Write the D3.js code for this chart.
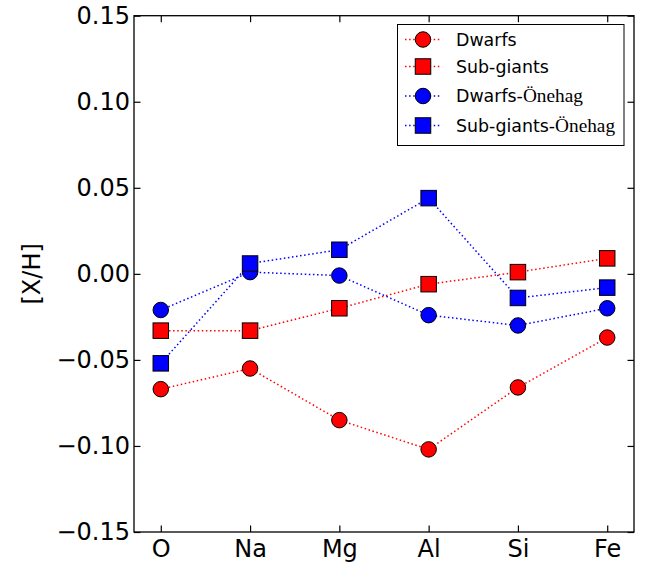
<!DOCTYPE html>
<html>
<head>
<meta charset="utf-8">
<script src="https://cdn.jsdelivr.net/npm/d3@7"></script>
<style>
  html, body { margin: 0; padding: 0; background: #fff; }
  svg text { font-family: "DejaVu Sans", sans-serif; fill: #000; }
</style>
</head>
<body>
<svg id="chart" width="646" height="568"></svg>
<script>
// Elements along the x axis
const elements = ["O", "Na", "Mg", "Al", "Si", "Fe"];

// [X/H] abundances per sample
const dwarfs          = [-0.067, -0.055, -0.085, -0.102, -0.066, -0.037];
const subGiants       = [-0.033, -0.033, -0.020, -0.006,  0.001,  0.009];
const dwarfsOnehag    = [-0.021,  0.001, -0.001, -0.024, -0.030, -0.020];
const subGiantsOnehag = [-0.052,  0.006,  0.014,  0.044, -0.014, -0.008];

const yTicks = [-0.15, -0.10, -0.05, 0.00, 0.05, 0.10, 0.15];

const series = [
  { name: "Dwarfs",     suffix: "",        values: dwarfs,          color: "#ff0000", shape: "circle" },
  { name: "Sub-giants", suffix: "",        values: subGiants,       color: "#ff0000", shape: "square" },
  { name: "Dwarfs-",    suffix: "Önehag",  values: dwarfsOnehag,    color: "#0000ff", shape: "circle" },
  { name: "Sub-giants-",suffix: "Önehag",  values: subGiantsOnehag, color: "#0000ff", shape: "square" }
];

const svg = d3.select("#chart");
const plot = { left: 134, right: 634, top: 15.7, bottom: 532 };

const x = d3.scaleLinear().domain([-0.3, elements.length - 1 + 0.3]).range([plot.left, plot.right]);
const y = d3.scaleLinear().domain([-0.15, 0.15]).range([plot.bottom, plot.top]);

const tickLen = 6.5;
const fmtY = v => (v < 0 ? "\u2212" : "") + Math.abs(v).toFixed(2);

// Axes with inward ticks on all four sides
const axisLeft = d3.axisLeft(y).tickValues(yTicks).tickSizeInner(-tickLen).tickSizeOuter(0).tickPadding(4).tickFormat(fmtY);
const axisRight = d3.axisRight(y).tickValues(yTicks).tickSizeInner(-tickLen).tickSizeOuter(0).tickFormat("");
const axisBottom = d3.axisBottom(x).tickValues(d3.range(elements.length)).tickSizeInner(-tickLen).tickSizeOuter(0).tickPadding(8).tickFormat(i => elements[i]);
const axisTop = d3.axisTop(x).tickValues(d3.range(elements.length)).tickSizeInner(-tickLen).tickSizeOuter(0).tickFormat("");

function styleAxis(g) {
  g.select(".domain").remove();
  g.selectAll(".tick line").attr("stroke", "#000").attr("stroke-width", 1.2);
  g.selectAll(".tick text").attr("font-size", 24).attr("font-family", "DejaVu Sans");
}

svg.append("g").attr("transform", `translate(${plot.left},0)`).call(axisLeft).call(styleAxis);
svg.append("g").attr("transform", `translate(${plot.right},0)`).call(axisRight).call(styleAxis);
svg.append("g").attr("transform", `translate(0,${plot.bottom})`).call(axisBottom).call(styleAxis);
svg.append("g").attr("transform", `translate(0,${plot.top})`).call(axisTop).call(styleAxis);

// Y axis label
svg.append("text")
  .attr("transform", `translate(39.5,${y(0)}) rotate(-90)`)
  .attr("text-anchor", "middle")
  .attr("font-size", 24)
  .text("[X/H]");

// Data series
const line = d3.line().x((d, i) => x(i)).y(d => y(d));
const markerSize = 15.5;

function drawMarker(g, shape, cx, cy, color) {
  if (shape === "circle") {
    g.append("circle").attr("cx", cx).attr("cy", cy).attr("r", markerSize / 2)
      .attr("fill", color).attr("stroke", "#000").attr("stroke-width", 1);
  } else {
    g.append("rect").attr("x", cx - markerSize / 2).attr("y", cy - markerSize / 2)
      .attr("width", markerSize).attr("height", markerSize)
      .attr("fill", color).attr("stroke", "#000").attr("stroke-width", 1);
  }
}

const dataLayer = svg.append("g");
series.forEach(s => {
  const g = dataLayer.append("g");
  g.append("path").attr("d", line(s.values))
    .attr("fill", "none").attr("stroke", s.color)
    .attr("stroke-width", 1.5).attr("stroke-dasharray", "1.5,2.6");
  s.values.forEach((v, i) => drawMarker(g, s.shape, x(i), y(v), s.color));
});

// Frame
svg.append("rect")
  .attr("x", plot.left).attr("y", plot.top)
  .attr("width", plot.right - plot.left).attr("height", plot.bottom - plot.top)
  .attr("fill", "none").attr("stroke", "#000").attr("stroke-width", 1.3);

// Legend
const legend = svg.append("g");
legend.append("rect")
  .attr("x", 397.5).attr("y", 24.5).attr("width", 226.5).attr("height", 121)
  .attr("fill", "#fff").attr("stroke", "#000").attr("stroke-width", 1);

const rowY = [39.5, 66.5, 96, 125.5];
series.forEach((s, i) => {
  const ry = rowY[i];
  legend.append("line").attr("x1", 405).attr("x2", 441).attr("y1", ry).attr("y2", ry)
    .attr("stroke", s.color).attr("stroke-width", 1.5).attr("stroke-dasharray", "1.5,2.6");
  drawMarker(legend, s.shape, 423, ry, s.color);
  const t = legend.append("text").attr("x", 456).attr("y", ry + 6.3).attr("font-size", 17.4);
  t.append("tspan").text(s.name);
  if (s.suffix) {
    t.append("tspan").attr("font-family", "Liberation Serif, serif").attr("font-size", 19.3).text(s.suffix);
  }
});
</script>
</body>
</html>
